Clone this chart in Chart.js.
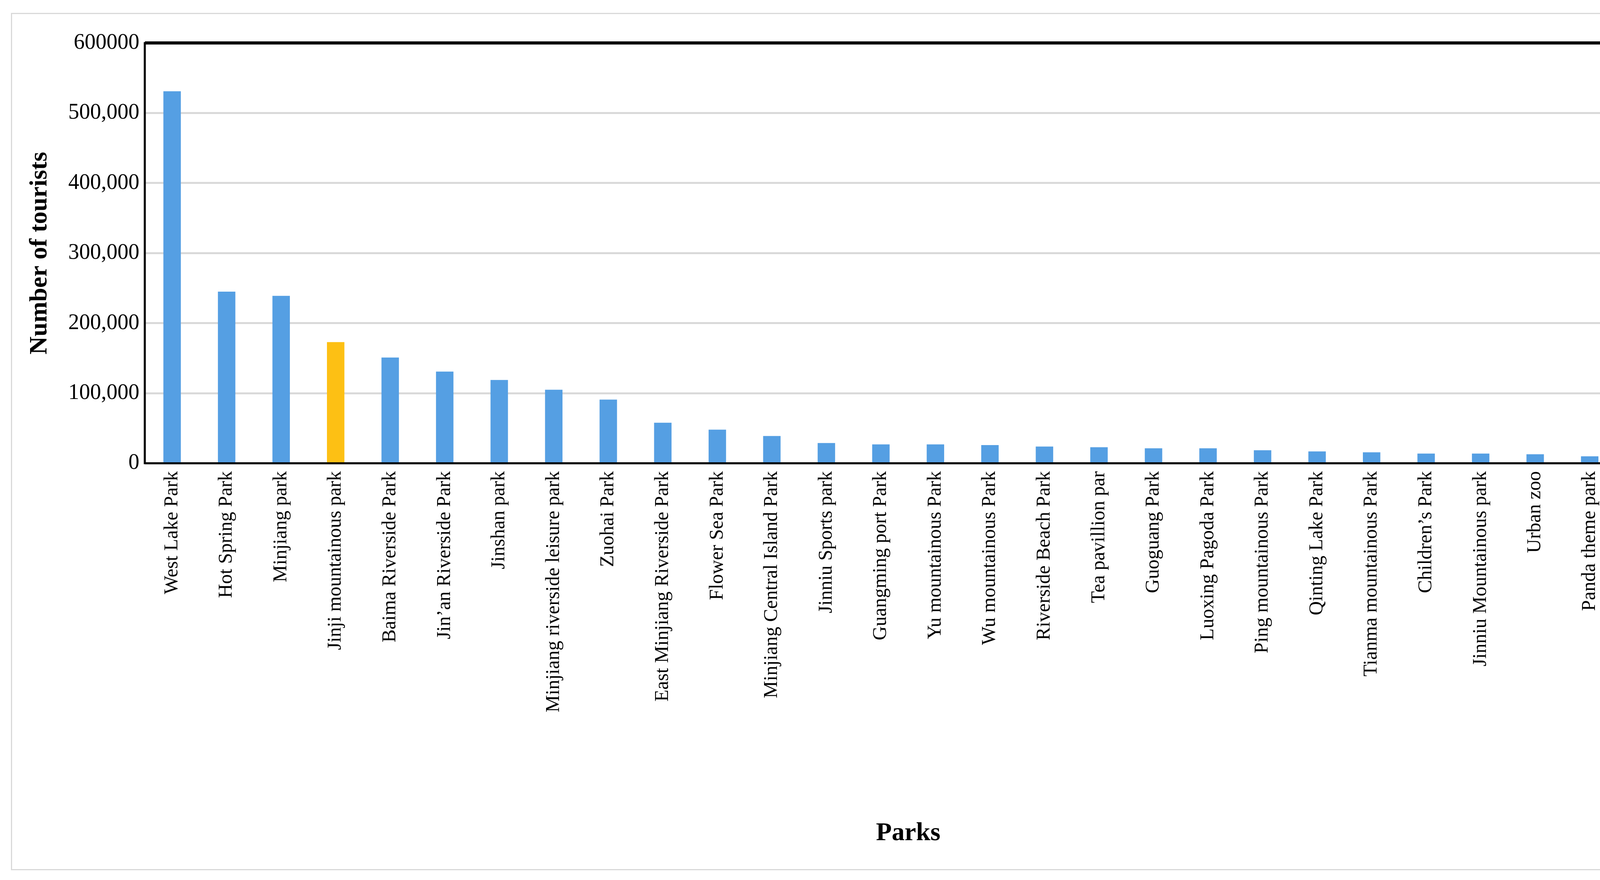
<!DOCTYPE html>
<html>
<head>
<meta charset="utf-8">
<script src="https://cdn.jsdelivr.net/npm/chart.js@4/dist/chart.umd.min.js"></script>
<style>
  html, body { margin: 0; padding: 0; background: #fff; overflow: hidden; }
  #frame { position: absolute; left: 28px; top: 33px; width: 4290px; height: 2190px; border: 3px solid #d9d9d9; }
  #parksChart { position: absolute; left: 0; top: 0; }
</style>
</head>
<body>
<div id="frame"></div>
<canvas id="parksChart" width="4349" height="2254"></canvas>
<script>
// Parcs et nombre de touristes
const parks = ['West Lake Park', 'Hot Spring Park', 'Minjiang park', 'Jinji mountainous park',
    'Baima Riverside Park', 'Jin\u2019an Riverside Park', 'Jinshan park', 'Minjiang riverside leisure park',
    'Zuohai Park', 'East Minjiang Riverside Park', 'Flower Sea Park', 'Minjiang Central Island Park',
    'Jinniu Sports park', 'Guangming port Park', 'Yu mountainous Park', 'Wu mountainous Park',
    'Riverside Beach Park', 'Tea pavillion par', 'Guoguang Park', 'Luoxing Pagoda Park',
    'Ping mountainous Park', 'Qinting Lake Park', 'Tianma mountainous Park', 'Children\u2019s Park',
    'Jinniu Mountainous park', 'Urban zoo', 'Panda theme park', 'Feifeng mountainous Olympic theme park'];
const tourists = [531000, 245000, 239000, 173000, 151000, 131000, 119000, 105000, 91000, 58000,
    48000, 39000, 29000, 27000, 27000, 26000, 24000, 23000, 21500, 21500,
    18600, 17000, 15700, 14000, 14000, 13000, 10000, 8000];
const highlighted = 'Jinji mountainous park';
const yTicks = [0, 100000, 200000, 300000, 400000, 500000, 600000];

const blue = '#559fe3';
const yellow = '#fdc014';
const serif = '"Liberation Serif", "Times New Roman", serif';

// Cadre noir autour de la zone de tracé
const plotBorder = {
    id: 'plotBorder',
    afterDraw(chart) {
        const a = chart.chartArea, c = chart.ctx;
        c.save();
        c.strokeStyle = '#000';
        c.lineWidth = 8;
        c.beginPath(); c.moveTo(a.left, a.top); c.lineTo(a.right, a.top); c.stroke();
        c.lineWidth = 5;
        c.beginPath(); c.moveTo(a.right, a.top); c.lineTo(a.right, a.bottom); c.stroke();
        c.beginPath(); c.moveTo(a.left, a.bottom); c.lineTo(a.right, a.bottom); c.stroke();
        c.beginPath(); c.moveTo(a.left, a.top); c.lineTo(a.left, a.bottom); c.stroke();
        c.restore();
    }
};

new Chart(document.getElementById('parksChart'), {
    type: 'bar',
    data: {
        labels: parks,
        datasets: [{
            label: 'Number of tourists',
            data: tourists,
            backgroundColor: parks.map(p => p === highlighted ? yellow : blue),
            categoryPercentage: 1,
            barPercentage: 0.32
        }]
    },
    options: {
        responsive: false,
        animation: false,
        devicePixelRatio: 1,
        layout: { padding: { left: 60, right: 70, top: 110, bottom: 75 } },
        plugins: { legend: { display: false }, tooltip: { enabled: false } },
        scales: {
            x: {
                grid: { display: false },
                border: { color: '#000', width: 5 },
                ticks: {
                    autoSkip: false, maxRotation: 90, minRotation: 90,
                    color: '#000', font: { family: serif, size: 50 }, padding: 12
                },
                title: { display: true, text: 'Parks', color: '#000', font: { family: serif, size: 66, weight: 'bold' }, padding: { top: 30 } }
            },
            y: {
                min: 0, max: 600000,
                afterBuildTicks: axis => { axis.ticks = yTicks.map(v => ({ value: v })); },
                grid: { color: '#d9d9d9', lineWidth: 5, drawTicks: false },
                border: { color: '#000', width: 5 },
                ticks: {
                    color: '#000', font: { family: serif, size: 56 }, padding: 14,
                    callback: v => v === 600000 ? '600000' : v.toLocaleString('en-US')
                },
                title: { display: true, text: 'Number of tourists', color: '#000', font: { family: serif, size: 64, weight: 'bold' }, padding: { bottom: 20 } }
            }
        }
    },
    plugins: [plotBorder]
});
</script>
</body>
</html>
